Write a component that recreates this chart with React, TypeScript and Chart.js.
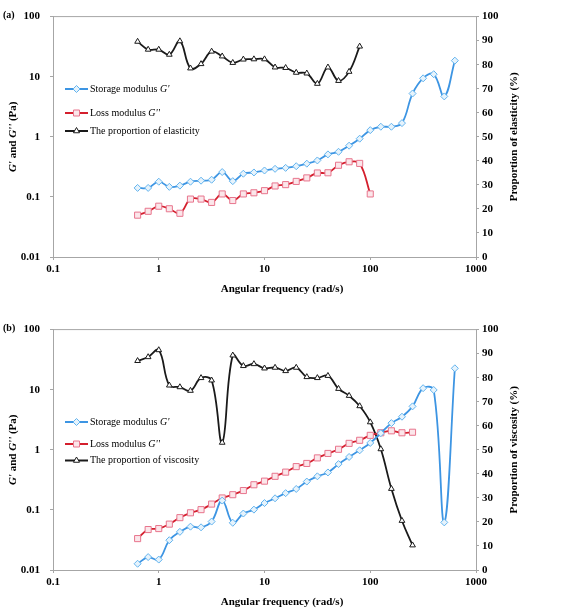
import React, { useEffect, useRef } from 'react';
import { Chart, registerables } from 'chart.js';

Chart.register(...registerables);

// ---------- data ----------
const frequency = [
  0.631, 0.794, 1, 1.259, 1.585, 1.995, 2.512, 3.162, 3.981, 5.012,
  6.31, 7.943, 10, 12.59, 15.85, 19.95, 25.12, 31.62, 39.81, 50.12,
  63.1, 79.43, 100, 125.9, 158.5, 199.5, 251.2, 316.2, 398.1, 501.2, 631,
];

// Panel (a)
const storageA = [
  0.141, 0.141, 0.179, 0.147, 0.154, 0.179, 0.186, 0.193, 0.259, 0.183,
  0.243, 0.255, 0.275, 0.293, 0.304, 0.324, 0.357, 0.404, 0.51, 0.563,
  0.711, 0.93, 1.29, 1.47, 1.47, 1.69, 5.25, 9.4, 11.0, 4.7, 18.5,
];
const lossA = [
  0.0497, 0.0576, 0.07, 0.0635, 0.0534, 0.092, 0.092, 0.081, 0.112, 0.087,
  0.112, 0.117, 0.127, 0.152, 0.16, 0.181, 0.207, 0.25, 0.252, 0.336,
  0.384, 0.361, 0.112,
];
const elasticityA = [
  89.6, 86.3, 86.3, 84.2, 89.8, 78.5, 80.3, 85.5, 83.5, 80.8,
  82.2, 82.3, 82.3, 78.9, 78.7, 76.7, 76.4, 72.1, 78.9, 73.3,
  77.1, 87.6,
];

// Panel (b)
const storageB = [
  0.0127, 0.0164, 0.0149, 0.0313, 0.0431, 0.0526, 0.0513, 0.064, 0.143, 0.061,
  0.087, 0.101, 0.13, 0.156, 0.19, 0.223, 0.296, 0.362, 0.42, 0.578,
  0.76, 0.98, 1.3, 1.89, 2.78, 3.55, 5.28, 10.6, 9.9, 0.062, 22.7,
];
const lossB = [
  0.0333, 0.0471, 0.0489, 0.058, 0.0743, 0.0895, 0.101, 0.125, 0.158, 0.179,
  0.21, 0.262, 0.301, 0.362, 0.425, 0.525, 0.593, 0.733, 0.87, 1.02,
  1.28, 1.44, 1.74, 1.92, 2.07, 1.92, 1.96,
];
const viscosityB = [
  87.0, 88.6, 91.5, 76.8, 76.1, 74.6, 79.9, 78.9, 53.0, 89.3,
  84.9, 85.7, 83.9, 84.2, 82.8, 84.2, 80.3, 79.9, 80.8, 75.4,
  72.5, 68.2, 61.5, 50.3, 33.8, 20.5, 10.3,
];

const xTicks = [0.1, 1, 10, 100, 1000];
const yTicks = [0.01, 0.1, 1, 10, 100];

// ---------- styles ----------
const SERIF = '"Liberation Serif", "Times New Roman", serif';
const AXIS = '#a6a6a6';
const BLUE_LINE = '#3d95e3';
const BLUE_MARK = '#62b3ee';
const BLUE_FILL = '#e6f3fc';
const RED_LINE = '#d41f2d';
const RED_MARK = '#e8758d';
const RED_FILL = '#fbe6ea';
const BLACK = '#1a1a1a';

type Part = { t: string; italic?: boolean };

function drawRich(ctx: CanvasRenderingContext2D, parts: Part[], x: number, y: number, size: number, bold: boolean, align: 'left' | 'center') {
  const fontOf = (p: Part) => `${p.italic ? 'italic ' : ''}${bold ? 'bold ' : ''}${size}px ${SERIF}`;
  let total = 0;
  for (const p of parts) {
    ctx.font = fontOf(p);
    total += ctx.measureText(p.t).width;
  }
  let cx = align === 'center' ? x - total / 2 : x;
  ctx.textBaseline = 'middle';
  ctx.textAlign = 'left';
  ctx.fillStyle = '#000';
  for (const p of parts) {
    ctx.font = fontOf(p);
    ctx.fillText(p.t, cx, y);
    cx += ctx.measureText(p.t).width;
  }
}

function drawMarker(ctx: CanvasRenderingContext2D, kind: string, x: number, y: number, stroke: string, fill: string) {
  ctx.beginPath();
  if (kind === 'diamond') {
    const r = 3.5;
    ctx.moveTo(x, y - r); ctx.lineTo(x + r, y); ctx.lineTo(x, y + r); ctx.lineTo(x - r, y); ctx.closePath();
  } else if (kind === 'square') {
    const s = 3;
    ctx.rect(x - s, y - s, 2 * s, 2 * s);
  } else {
    const r = 3.5;
    ctx.moveTo(x, y - r); ctx.lineTo(x + r * 0.87, y + r * 0.5); ctx.lineTo(x - r * 0.87, y + r * 0.5); ctx.closePath();
  }
  ctx.fillStyle = fill;
  ctx.fill();
  ctx.lineWidth = 1;
  ctx.strokeStyle = stroke;
  ctx.stroke();
}

type PanelProps = {
  tag: string;
  storage: number[];
  loss: number[];
  proportion: number[];
  proportionLabel: string;
  rightTitle: string;
  legendRows: number[];
};

function pts(vals: number[]) {
  return vals.map((v, i) => ({ x: frequency[i], y: v }));
}

function Panel(props: PanelProps) {
  const ref = useRef<HTMLCanvasElement>(null);
  useEffect(() => {
    if (!ref.current) return;
    const overlay = {
      id: 'overlay',
      afterDraw(chart: any) {
        const ctx: CanvasRenderingContext2D = chart.ctx;
        const a = chart.chartArea;
        ctx.save();
        // top border of plot area
        ctx.strokeStyle = AXIS;
        ctx.lineWidth = 1;
        ctx.beginPath();
        ctx.moveTo(a.left, a.top);
        ctx.lineTo(a.right, a.top);
        ctx.stroke();
        // panel tag
        drawRich(ctx, [{ t: props.tag }], 3, a.top - 1, 10, true, 'left');
        // x title
        drawRich(ctx, [{ t: 'Angular frequency (rad/s)' }], 282, 289, 11, true, 'center');
        const midY = (a.top + a.bottom) / 2;
        // left title
        ctx.save();
        ctx.translate(13, midY);
        ctx.rotate(-Math.PI / 2);
        drawRich(ctx, [{ t: "G'", italic: true }, { t: ' and ' }, { t: "G''", italic: true }, { t: ' (Pa)' }], 0, 0, 11, true, 'center');
        ctx.restore();
        // right title
        ctx.save();
        ctx.translate(514, midY);
        ctx.rotate(-Math.PI / 2);
        drawRich(ctx, [{ t: props.rightTitle }], 0, 0, 11, true, 'center');
        ctx.restore();
        // legend
        const rows = [
          { color: BLUE_LINE, mark: 'diamond', ms: BLUE_MARK, mf: BLUE_FILL, parts: [{ t: 'Storage modulus ' }, { t: "G'", italic: true }] },
          { color: RED_LINE, mark: 'square', ms: RED_MARK, mf: RED_FILL, parts: [{ t: 'Loss modulus ' }, { t: "G''", italic: true }] },
          { color: BLACK, mark: 'triangle', ms: BLACK, mf: '#ffffff', parts: [{ t: props.proportionLabel }] },
        ];
        rows.forEach((r, i) => {
          const y = props.legendRows[i];
          ctx.strokeStyle = r.color;
          ctx.lineWidth = 2;
          ctx.beginPath();
          ctx.moveTo(65, y);
          ctx.lineTo(88, y);
          ctx.stroke();
          drawMarker(ctx, r.mark, 76.5, y, r.ms, r.mf);
          drawRich(ctx, r.parts as Part[], 90, y, 10, false, 'left');
        });
        ctx.restore();
      },
    };

    const tickFont = { family: SERIF, size: 11, weight: 'bold' as const };
    const chart = new Chart(ref.current, {
      type: 'line',
      data: {
        datasets: [
          {
            label: 'Storage modulus G\'',
            data: pts(props.storage),
            yAxisID: 'y',
            borderColor: BLUE_LINE,
            borderWidth: 1.8,
            backgroundColor: BLUE_FILL,
            pointStyle: 'rectRot',
            pointRadius: 3.5,
            pointBorderColor: BLUE_MARK,
            pointBackgroundColor: BLUE_FILL,
            pointBorderWidth: 1,
            tension: 0.4,
            fill: false,
          },
          {
            label: 'Loss modulus G\'\'',
            data: pts(props.loss),
            yAxisID: 'y',
            borderColor: RED_LINE,
            borderWidth: 1.8,
            backgroundColor: RED_FILL,
            pointStyle: 'rect',
            pointRadius: 4.3,
            pointBorderColor: RED_MARK,
            pointBackgroundColor: RED_FILL,
            pointBorderWidth: 1,
            tension: 0.4,
            fill: false,
          },
          {
            label: props.proportionLabel,
            data: pts(props.proportion),
            yAxisID: 'y1',
            borderColor: BLACK,
            borderWidth: 1.8,
            backgroundColor: '#ffffff',
            pointStyle: 'triangle',
            pointRadius: 3.3,
            pointBorderColor: BLACK,
            pointBackgroundColor: '#ffffff',
            pointBorderWidth: 1,
            tension: 0.4,
            fill: false,
          },
        ],
      },
      options: {
        responsive: false,
        animation: false,
        layout: { padding: { top: 8, left: 0, right: 0, bottom: 0 } },
        plugins: { legend: { display: false }, tooltip: { enabled: false } },
        scales: {
          x: {
            type: 'logarithmic',
            min: 0.1,
            max: 1000,
            position: 'bottom',
            afterBuildTicks: (s: any) => { s.ticks = xTicks.map((v) => ({ value: v })); },
            afterFit: (s: any) => { s.height = 43; },
            ticks: { font: tickFont, color: '#000', padding: 3, maxRotation: 0, autoSkip: false, callback: (v: any) => String(v) },
            grid: { display: true, drawOnChartArea: false, drawTicks: true, tickLength: 3, color: AXIS },
            border: { display: true, color: AXIS, width: 1 },
          },
          y: {
            type: 'logarithmic',
            min: 0.01,
            max: 100,
            position: 'left',
            afterBuildTicks: (s: any) => { s.ticks = yTicks.map((v) => ({ value: v })); },
            afterFit: (s: any) => { s.width = 53; },
            ticks: { font: tickFont, color: '#000', padding: 10, autoSkip: false, callback: (v: any) => String(v) },
            grid: { display: true, drawOnChartArea: false, drawTicks: true, tickLength: 3, color: AXIS },
            border: { display: true, color: AXIS, width: 1 },
          },
          y1: {
            type: 'linear',
            min: 0,
            max: 100,
            position: 'right',
            afterFit: (s: any) => { s.width = 91; },
            ticks: { font: tickFont, color: '#000', padding: 3, stepSize: 10, autoSkip: false },
            grid: { display: true, drawOnChartArea: false, drawTicks: true, tickLength: 3, color: AXIS },
            border: { display: true, color: AXIS, width: 1 },
          },
        },
      },
      plugins: [overlay],
    } as any);
    return () => chart.destroy();
  }, []);
  return <canvas ref={ref} width={567} height={300} style={{ display: 'block', width: 567, height: 300 }} />;
}

export default function App() {
  return (
    <div style={{ position: 'absolute', left: 0, top: 0, width: 567, height: 613, background: '#fff' }}>
      <div style={{ position: 'absolute', left: 0, top: 0 }}>
        <Panel
          tag="(a)"
          storage={storageA}
          loss={lossA}
          proportion={elasticityA}
          proportionLabel="The proportion of elasticity"
          rightTitle="Proportion of elasticity (%)"
          legendRows={[89, 113, 131]}
        />
      </div>
      <div style={{ position: 'absolute', left: 0, top: 313 }}>
        <Panel
          tag="(b)"
          storage={storageB}
          loss={lossB}
          proportion={viscosityB}
          proportionLabel="The proportion of viscosity"
          rightTitle="Proportion of viscosity (%)"
          legendRows={[109, 131, 147.5]}
        />
      </div>
    </div>
  );
}
